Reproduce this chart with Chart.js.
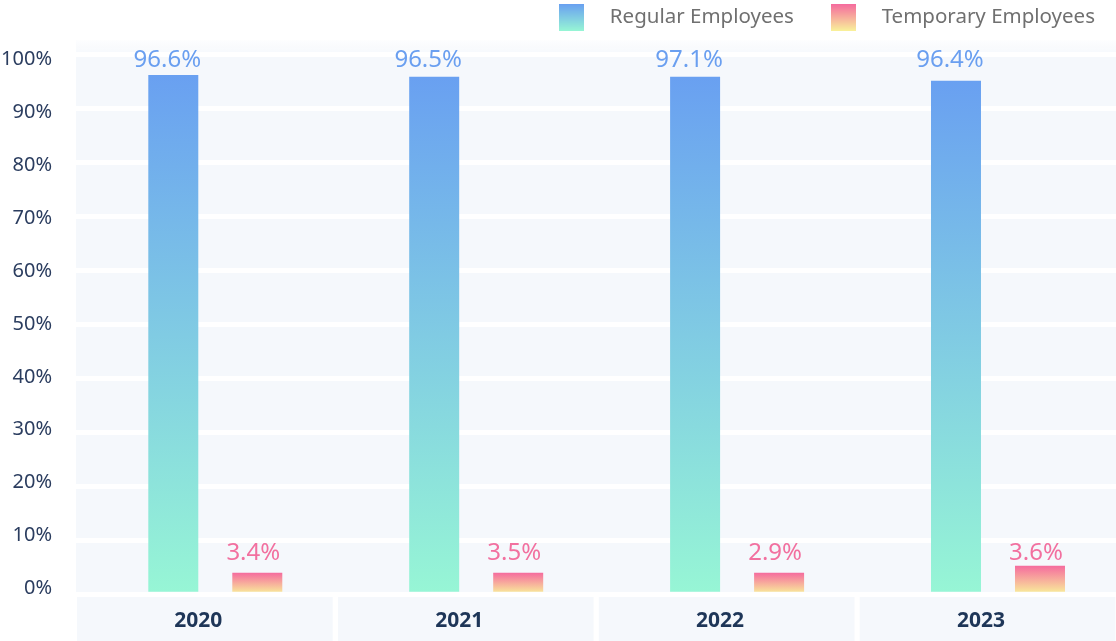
<!DOCTYPE html>
<html>
<head>
<meta charset="utf-8">
<script src="https://cdn.jsdelivr.net/npm/chart.js@4.4.1/dist/chart.umd.min.js"></script>
<style>
  html, body { margin: 0; padding: 0; background: #ffffff; }
  #wrap { width: 1116px; height: 641px; position: relative; }
</style>
</head>
<body>
<div id="wrap"><canvas id="c"></canvas></div>
<script>
// ---------------- data ----------------
const years = ['2020', '2021', '2022', '2023'];
const seriesNames = ['Regular Employees', 'Temporary Employees'];
// bar heights as drawn in the picture (share of workforce, %)
const regularShare = [96.15, 95.83, 95.83, 95.09];
const temporaryShare = [3.98, 3.98, 3.98, 5.28];
// value labels printed above the bars
const regularLabels = ['96.6%', '96.5%', '97.1%', '96.4%'];
const temporaryLabels = ['3.4%', '3.5%', '2.9%', '3.6%'];
// y axis tick labels
const yTickValues = [0, 10, 20, 30, 40, 50, 60, 70, 80, 90, 100];

// ---------------- styling ----------------
const FONT = "'Noto Sans', 'Open Sans', sans-serif";
const PLOT_BG = '#f5f8fc';
const REG_TOP = '#69a0f1', REG_BOTTOM = '#97f6d5';
const TMP_TOP = '#f56b9e', TMP_BOTTOM = '#f9f29a';
const LABEL_COLORS = ['#6a9ff0', '#f2709f'];
const LABEL_LEVEL = [97.7, 6.33];   // y-scale value of label baseline per series
const LABEL_DX = [-6, -4];
const BOX_FROM = -0.53, BOX_TO = 0.45;  // x-label panels, in x-scale units around each category

Chart.defaults.font.family = FONT;

function barGradient(top, bottom) {
  return (c) => {
    const chart = c.chart;
    if (!chart.chartArea || c.type !== 'data' || !c.raw) return top;
    const ys = chart.scales.y;
    const y0 = ys.getPixelForValue(c.raw.y);
    const y1 = ys.getPixelForValue(0);
    if (!isFinite(y0) || !isFinite(y1) || y1 - y0 < 1) return top;
    const g = chart.ctx.createLinearGradient(0, y0, 0, y1);
    g.addColorStop(0, top);
    g.addColorStop(1, bottom);
    return g;
  };
}

function legendIcon(top, bottom) {
  const cv = document.createElement('canvas');
  cv.width = 25; cv.height = 27;
  const g = cv.getContext('2d');
  const gr = g.createLinearGradient(0, 0, 0, 27);
  gr.addColorStop(0, top);
  gr.addColorStop(1, bottom);
  g.fillStyle = gr;
  g.fillRect(0, 0, 25, 27);
  return cv;
}
const legendIcons = [legendIcon(REG_TOP, REG_BOTTOM), legendIcon(TMP_TOP, TMP_BOTTOM)];

const backgroundPlugin = {
  id: 'plotBackground',
  beforeDraw(chart) {
    const { ctx, chartArea: a, scales } = chart;
    if (!a) return;
    ctx.save();
    // fade strip above the plot
    const fg = ctx.createLinearGradient(0, a.top - 14, 0, a.top);
    fg.addColorStop(0, 'rgba(245,248,252,0.25)');
    fg.addColorStop(1, 'rgba(245,248,252,0.9)');
    ctx.fillStyle = fg;
    ctx.fillRect(a.left, a.top - 14, a.right - a.left, 14);
    ctx.fillStyle = PLOT_BG;
    ctx.fillRect(a.left, a.top, a.right - a.left, a.bottom - a.top);
    // category panels under the axis
    const xs = scales.x;
    years.forEach((_, i) => {
      const l = Math.max(a.left, xs.getPixelForValue(i + BOX_FROM));
      const r = Math.min(chart.width, xs.getPixelForValue(i + BOX_TO));
      ctx.fillRect(l, a.bottom + 2.5, r - l, chart.height - a.bottom - 2.5);
    });
    ctx.restore();
  }
};

const valueLabelPlugin = {
  id: 'valueLabels',
  afterDatasetsDraw(chart) {
    const { ctx } = chart;
    const ys = chart.scales.y;
    const labelSets = [regularLabels, temporaryLabels];
    chart.data.datasets.forEach((ds, di) => {
      const meta = chart.getDatasetMeta(di);
      meta.data.forEach((bar, i) => {
        ctx.save();
        ctx.font = '24px ' + FONT;
        ctx.fillStyle = LABEL_COLORS[di];
        ctx.textAlign = 'center';
        ctx.textBaseline = 'alphabetic';
        ctx.fillText(labelSets[di][i], bar.x + LABEL_DX[di], ys.getPixelForValue(LABEL_LEVEL[di]));
        ctx.restore();
      });
    });
  }
};

const legendHeightPlugin = {
  id: 'legendHeight',
  beforeLayout(chart) {
    const lg = chart.legend;
    if (lg && !lg._patched) {
      const f = lg.fit;
      lg.fit = function () { f.call(this); this.height = 67.95; };
      lg._patched = true;
    }
  }
};

new Chart(document.getElementById('c'), {
  type: 'bar',
  data: {
    datasets: [
      {
        label: seriesNames[0],
        data: regularShare.map((v, i) => ({ x: i, y: v })),
        backgroundColor: barGradient(REG_TOP, REG_BOTTOM),
        borderWidth: 0,
        xAxisID: 'x', yAxisID: 'y',
        categoryPercentage: 0.6439,
        barPercentage: 0.5952
      },
      {
        label: seriesNames[1],
        data: temporaryShare.map((v, i) => ({ x: i, y: v })),
        backgroundColor: barGradient(TMP_TOP, TMP_BOTTOM),
        borderWidth: 0,
        xAxisID: 'x', yAxisID: 'y',
        categoryPercentage: 0.6439,
        barPercentage: 0.5952
      }
    ]
  },
  options: {
    responsive: true,
    maintainAspectRatio: false,
    animation: false,
    devicePixelRatio: 1,
    layout: { padding: { top: -13.75, left: 0, right: 0, bottom: 0 } },
    plugins: {
      tooltip: { enabled: false },
      legend: {
        display: true,
        position: 'top',
        align: 'end',
        labels: {
          usePointStyle: true,
          pointStyleWidth: 56.5,
          padding: 21,
          color: '#707070',
          font: { size: 20.5, family: FONT },
          generateLabels: () => seriesNames.map((name, i) => ({
            text: name,
            pointStyle: legendIcons[i],
            fillStyle: i === 0 ? REG_TOP : TMP_TOP,
            strokeStyle: 'rgba(0,0,0,0)',
            lineWidth: 0,
            fontColor: '#707070',
            hidden: false,
            datasetIndex: i
          }))
        }
      }
    },
    scales: {
      x: {
        type: 'linear',
        position: 'bottom',
        offset: false,
        min: -0.5339,
        max: 3.4523,
        z: 1,
        grid: { display: false, drawTicks: false, tickLength: 0 },
        border: { display: true, color: '#ffffff', width: 5 },
        afterBuildTicks: (s) => { s.ticks = years.map((_, i) => ({ value: i })); },
        afterFit: (s) => { s.height = 46.8; },
        ticks: {
          autoSkip: false,
          maxRotation: 0,
          padding: 14.4,
          labelOffset: -17,
          color: '#1e3658',
          font: { size: 21, weight: 'bold', family: FONT },
          callback: (v) => years[v]
        }
      },
      y: {
        type: 'linear',
        position: 'left',
        min: 0,
        max: 100,
        grid: { color: '#ffffff', lineWidth: 5, drawTicks: false, tickLength: 0 },
        border: { display: false },
        afterBuildTicks: (s) => { s.ticks = yTickValues.map(v => ({ value: v })); },
        afterFit: (s) => { s.width = 0; },
        ticks: { display: false }
      },
      yLab: {
        type: 'linear',
        position: 'left',
        min: -1.078,
        max: 101.0,
        grid: { display: false, drawTicks: false, tickLength: 0 },
        border: { display: false },
        afterBuildTicks: (s) => { s.ticks = yTickValues.map(v => ({ value: v })); },
        afterFit: (s) => { s.width = 76; },
        ticks: {
          autoSkip: false,
          padding: 24,
          color: '#2b3d5f',
          font: { size: 20, family: FONT },
          callback: (v) => v + '%'
        }
      }
    }
  },
  plugins: [backgroundPlugin, valueLabelPlugin, legendHeightPlugin]
});
</script>
</body>
</html>
